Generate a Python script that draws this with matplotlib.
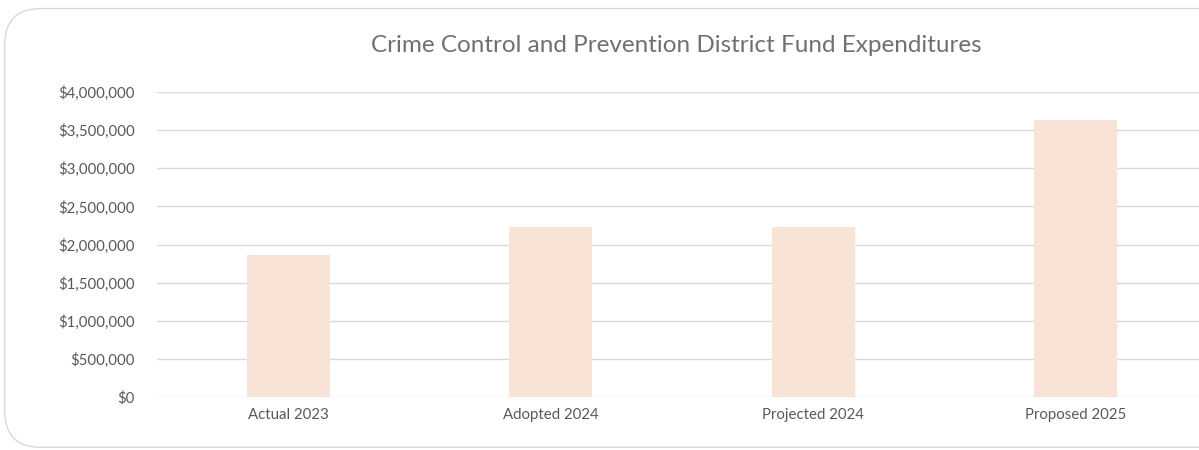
import matplotlib.pyplot as plt
from matplotlib.patches import FancyBboxPatch
from matplotlib.ticker import FuncFormatter

# Data
categories = ['Actual 2023', 'Adopted 2024', 'Projected 2024', 'Proposed 2025']
expenditures = [1862000, 2230000, 2230000, 3633000]

plt.rcParams['font.family'] = ['Lato', 'DejaVu Sans']
grey = '#595959'

fig = plt.figure(figsize=(11.99, 4.5), dpi=100)

# rounded chart-area border
border = FancyBboxPatch((0.004, 0.006), 1.2, 0.975, boxstyle='round,pad=0,rounding_size=0.03',
                        transform=fig.transFigure, facecolor='none', edgecolor='#d9d9d9',
                        linewidth=1, mutation_aspect=1199 / 450, zorder=-1)
fig.patches.append(border)

ax = fig.add_axes([157 / 1199, 1 - 397 / 450, 1050 / 1199, 305 / 450])
ax.set_facecolor('none')

x = range(len(categories))
ax.bar(x, expenditures, width=0.316, color='#f9e3d6', zorder=2)

ax.set_xlim(-0.5, len(categories) - 0.5)
ax.set_ylim(0, 4000000)
ax.set_yticks(range(0, 4000001, 500000))
ax.yaxis.set_major_formatter(FuncFormatter(lambda v, p: '${:,.0f}'.format(v)))
ax.set_xticks(list(x))
ax.set_xticklabels(categories)
ax.grid(axis='y', color='#d9d9d9', linewidth=1, zorder=0)
for s in ax.spines.values():
    s.set_visible(False)
ax.tick_params(axis='both', length=0, labelsize=10.8, labelcolor=grey)
ax.tick_params(axis='y', pad=16)
ax.tick_params(axis='x', pad=8)

fig.text(676 / 1199, 1 - 45 / 450, 'Crime Control and Prevention District Fund Expenditures',
         ha='center', va='center', fontsize=17.5, color='#707070')

fig.savefig('out.png', dpi=100)
